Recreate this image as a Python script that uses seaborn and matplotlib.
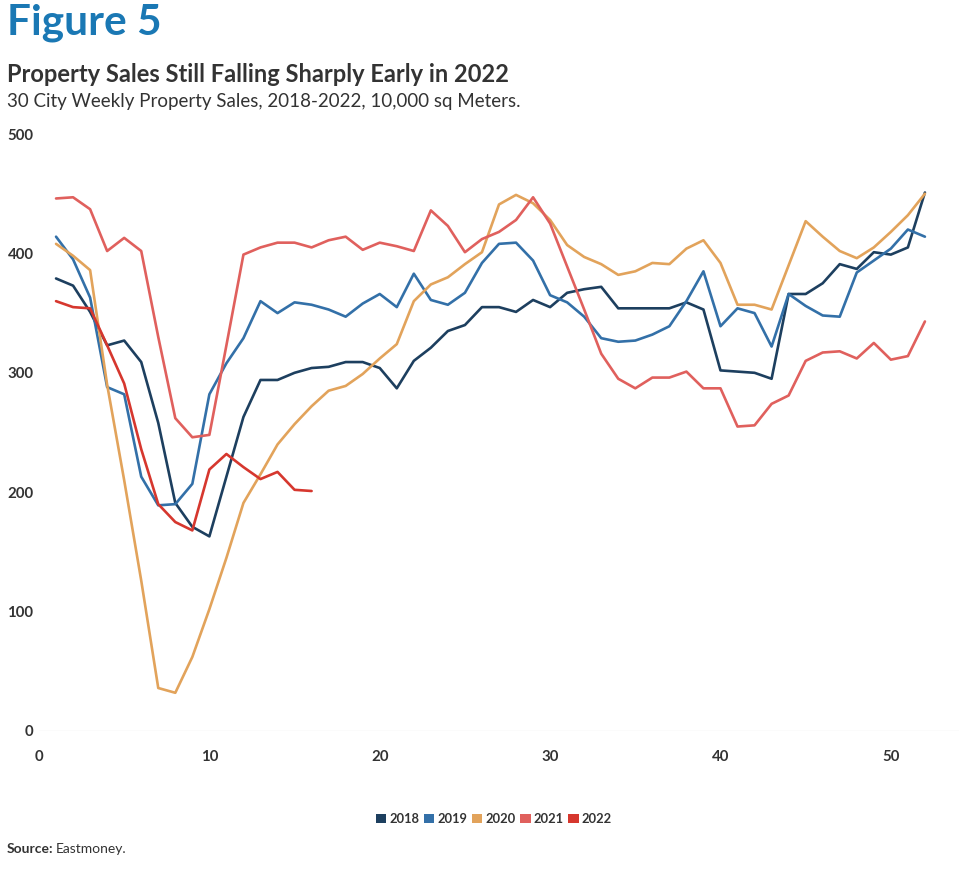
import numpy as np
import pandas as pd
import matplotlib
matplotlib.use("Agg")
import matplotlib.pyplot as plt
import seaborn as sns
from matplotlib.patches import Patch

years = ["2018", "2019", "2020", "2021", "2022"]
colors = ["#1d3f5f", "#3370a8", "#e2a35b", "#e0605d", "#d6372e"]

y2018 = [379, 373, 351, 323, 327, 309, 258, 191, 171, 163, 213, 263, 294, 294, 300, 304, 305, 309, 309, 304,
         287, 310, 321, 335, 340, 355, 355, 351, 361, 355, 367, 370, 372, 354, 354, 354, 354, 359, 353, 302,
         301, 300, 295, 366, 366, 375, 391, 387, 401, 399, 405, 451]
y2019 = [414, 395, 363, 288, 282, 213, 189, 190, 207, 282, 308, 329, 360, 350, 359, 357, 353, 347, 358, 366,
         355, 383, 361, 357, 367, 392, 408, 409, 394, 365, 359, 347, 329, 326, 327, 332, 339, 360, 385, 339,
         354, 350, 322, 366, 356, 348, 347, 384, 394, 404, 420, 414]
y2020 = [408, 398, 386, 290, 210, 126, 36, 32, 62, 102, 145, 191, 215, 240, 257, 272, 285, 289, 299, 312,
         324, 360, 374, 380, 391, 401, 441, 449, 442, 428, 407, 397, 391, 382, 385, 392, 391, 404, 411, 392,
         357, 357, 353, 390, 427, 414, 402, 396, 405, 418, 432, 450]
y2021 = [446, 447, 437, 402, 413, 402, 330, 262, 246, 248, 323, 399, 405, 409, 409, 405, 411, 414, 403, 409,
         406, 402, 436, 423, 401, 412, 418, 428, 447, 425, 389, 353, 316, 295, 287, 296, 296, 301, 287, 287,
         255, 256, 274, 281, 310, 317, 318, 312, 325, 311, 314, 343]
y2022 = [360, 355, 354, 323, 291, 236, 190, 175, 168, 219, 232, 221, 211, 217, 202, 201]

series = [y2018, y2019, y2020, y2021, y2022]
rows = []
for yr, vals in zip(years, series):
    for i, v in enumerate(vals):
        rows.append({"week": i + 1, "sales": v, "year": yr})
df = pd.DataFrame(rows)

x_ticks = [0, 10, 20, 30, 40, 50]
y_ticks = [0, 100, 200, 300, 400, 500]

sns.set_style("white")
plt.rcParams["font.family"] = ["Lato", "DejaVu Sans"]

W, H = 967, 873
fig = plt.figure(figsize=(W / 100, H / 100), dpi=100)
ax = fig.add_axes([39 / W, 1 - 731 / H, 920 / W, 597 / H])

sns.lineplot(data=df, x="week", y="sales", hue="year", palette=dict(zip(years, colors)),
             linewidth=1.9, ax=ax, legend=False)

ax.axhline(0, color="#eeeeee", lw=1, zorder=0)
ax.set_xlim(0, 54)
ax.set_ylim(0, 500)
ax.set_xticks(x_ticks)
ax.set_yticks(y_ticks)
ax.set_xlabel("")
ax.set_ylabel("")
for s in ax.spines.values():
    s.set_visible(False)
ax.tick_params(axis="both", length=0, labelsize=10.8, labelcolor="#333333")
ax.tick_params(axis="y", pad=4)
ax.tick_params(axis="x", pad=14)
for lab in ax.get_xticklabels() + ax.get_yticklabels():
    lab.set_fontweight("bold")
ax.grid(False)

fig.text(7 / W, 1 - 23 / H, "Figure 5", fontsize=30.5, fontweight="bold", color="#1a78b4",
         va="center", ha="left")
fig.text(7 / W, 1 - 75 / H, "Property Sales Still Falling Sharply Early in 2022", fontsize=17,
         fontweight="bold", color="#333333", va="center", ha="left")
fig.text(7 / W, 1 - 101 / H, "30 City Weekly Property Sales, 2018-2022, 10,000 sq Meters.", fontsize=13.5,
         color="#333333", va="center", ha="left")

handles = [Patch(facecolor=c, edgecolor="none") for c in colors]
leg = fig.legend(handles, years, loc="center", bbox_to_anchor=(494 / W, 1 - 819 / H), ncol=5,
                 frameon=False, handlelength=0.8, handleheight=0.8, handletextpad=0.25,
                 columnspacing=0.35, prop={"weight": "bold", "size": 9.3})
for t in leg.get_texts():
    t.set_color("#333333")

fig.text(7 / W, 1 - 849 / H, "Source:", fontsize=10, fontweight="bold", color="#333333",
         va="center", ha="left")
fig.text(56 / W, 1 - 849 / H, "Eastmoney.", fontsize=10, color="#333333", va="center", ha="left")

fig.savefig("out.png", dpi=100)
